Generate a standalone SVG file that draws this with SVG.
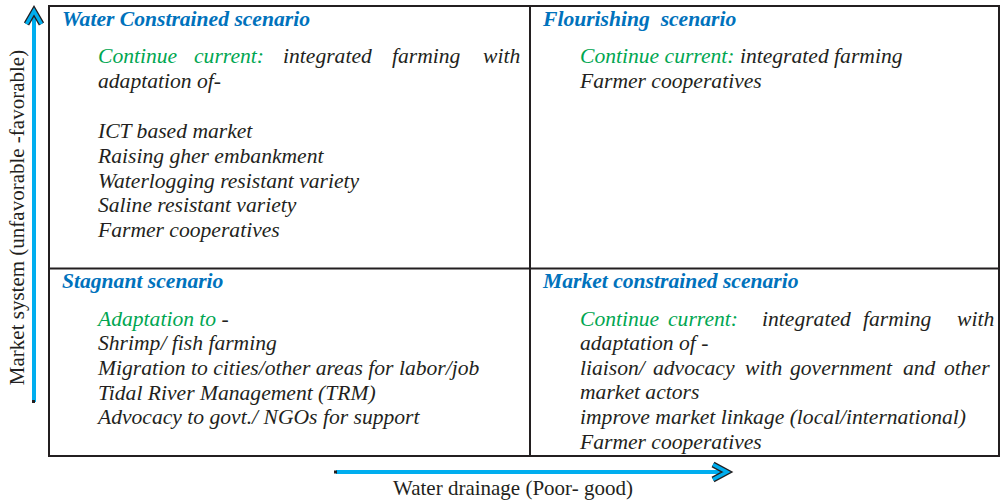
<svg xmlns="http://www.w3.org/2000/svg" width="1000" height="501" viewBox="0 0 1000 501">
<style>
text{font-family:"Liberation Serif","Times New Roman",serif;font-size:21.6px;fill:#231F20}
.t{font-weight:bold;font-style:italic;fill:#0072BC}
.b{font-style:italic}
.g{fill:#00A651}
.ax{font-size:21px}
.frame{fill:none;stroke:#231F20;stroke-width:2}
.arr{fill:none;stroke:#00AEEF;stroke-width:4}
.head{fill:none;stroke:#231F20;stroke-width:6;stroke-linejoin:miter}
.headb{fill:none;stroke:#00AEEF;stroke-width:3.5;stroke-linejoin:miter}
</style>
<rect width="1000" height="501" fill="#fff"/>
<g id="frame">
<rect class="frame" x="49" y="6" width="950" height="450"/>
<line class="frame" x1="530" y1="6" x2="530" y2="456"/>
<line class="frame" x1="49" y1="268.5" x2="999" y2="268.5"/>
</g>
<g id="connectors">
<line class="arr" x1="34" y1="402" x2="34" y2="12"/>
<polyline class="head" points="26.5,24 34,11 41.5,24"/>
<polyline class="headb" points="26.5,24 34,11 41.5,24"/>
<rect x="32" y="400" width="3" height="3" fill="#231F20"/>
<line class="arr" x1="336" y1="472" x2="726" y2="472"/>
<polyline class="head" points="713,464.5 727,472 713,479.5"/>
<polyline class="headb" points="713,464.5 727,472 713,479.5"/>
<rect x="334" y="470.5" width="3" height="3" fill="#231F20"/>
</g>
<g id="axis-y">
<text class="ax" transform="translate(24,217.5) rotate(-90)" text-anchor="middle">Market system (unfavorable -favorable)</text>
</g>
<g id="axis-x">
<text class="ax" x="513" y="495" text-anchor="middle">Water drainage (Poor- good)</text>
</g>
<g id="water-constrained">
<text class="t" x="62" y="26">Water Constrained scenario</text>
<text class="b g" x="98" y="63">Continue</text>
<text class="b g" x="194" y="63">current:</text>
<text class="b" x="283" y="63">integrated</text>
<text class="b" x="392" y="63">farming</text>
<text class="b" x="483" y="63">with</text>
<text class="b" x="98" y="88">adaptation of-</text>
<text class="b" x="98" y="138">ICT based market</text>
<text class="b" x="98" y="162.5">Raising gher embankment</text>
<text class="b" x="98" y="187.5">Waterlogging resistant variety</text>
<text class="b" x="98" y="212">Saline resistant variety</text>
<text class="b" x="98" y="236.5">Farmer cooperatives</text>
</g>
<g id="flourishing">
<text class="t" x="543" y="26">Flourishing&#160; scenario</text>
<text class="b" x="580" y="63"><tspan class="g">Continue current:</tspan> integrated farming</text>
<text class="b" x="580" y="88">Farmer cooperatives</text>
</g>
<g id="stagnant">
<text class="t" x="62" y="288">Stagnant scenario</text>
<text class="b" x="98" y="325.5"><tspan class="g">Adaptation to</tspan> -</text>
<text class="b" x="98" y="350">Shrimp/ fish farming</text>
<text class="b" x="98" y="375">Migration to cities/other areas for labor/job</text>
<text class="b" x="98" y="399.5">Tidal River Management (TRM)</text>
<text class="b" x="98" y="424">Advocacy to govt./ NGOs for support</text>
</g>
<g id="market-constrained">
<text class="t" x="543" y="288">Market constrained scenario</text>
<text class="b g" x="580" y="325.5">Continue</text>
<text class="b g" x="668" y="325.5">current:</text>
<text class="b" x="762" y="325.5">integrated</text>
<text class="b" x="863" y="325.5">farming</text>
<text class="b" x="957" y="325.5">with</text>
<text class="b" x="580" y="350">adaptation of -</text>
<text class="b" x="580" y="374.5">liaison/</text>
<text class="b" x="653" y="374.5">advocacy</text>
<text class="b" x="745" y="374.5">with</text>
<text class="b" x="790" y="374.5">government</text>
<text class="b" x="903" y="374.5">and</text>
<text class="b" x="944" y="374.5">other</text>
<text class="b" x="580" y="399">market actors</text>
<text class="b" x="580" y="424">improve market linkage (local/international)</text>
<text class="b" x="580" y="448.5">Farmer cooperatives</text>
</g>
</svg>
